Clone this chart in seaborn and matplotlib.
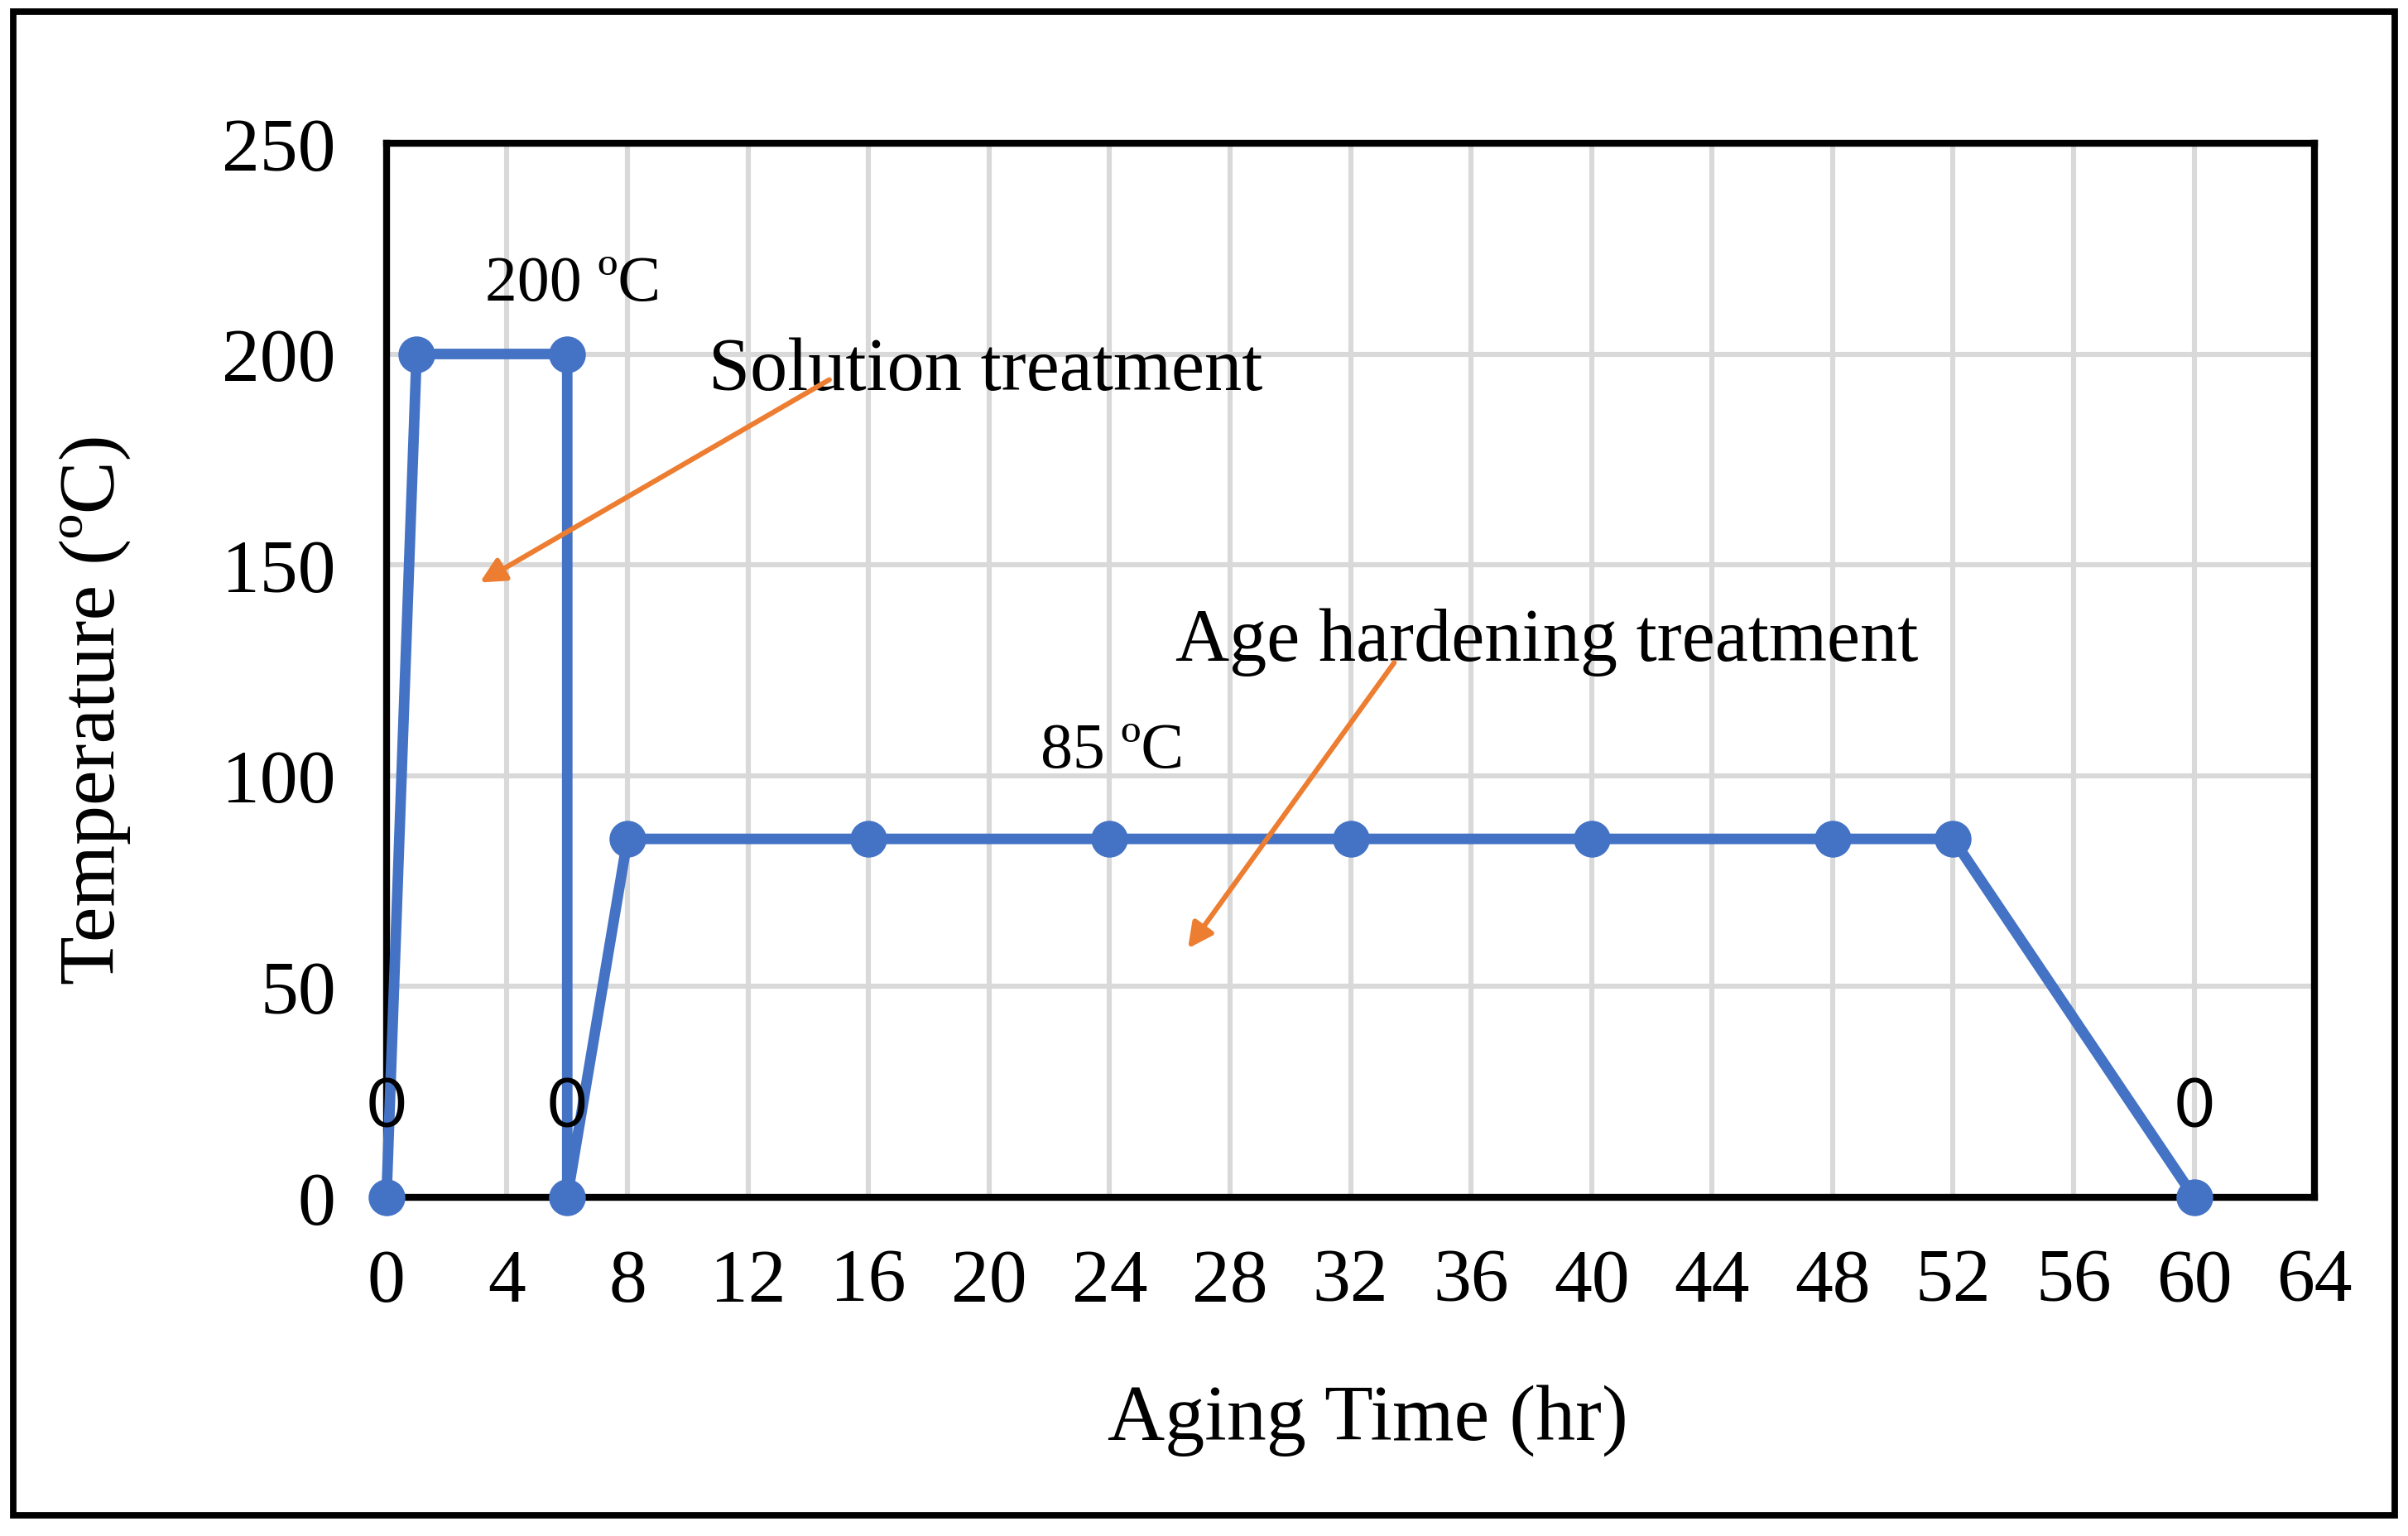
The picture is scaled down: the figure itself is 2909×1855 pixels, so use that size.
import numpy as np
import pandas as pd
import seaborn as sns
import matplotlib.pyplot as plt
from matplotlib.patches import Rectangle

# aging cycle
time_hr = [0, 1, 6, 6, 8, 16, 24, 32, 40, 48, 52, 60]
temp_c = [0, 200, 200, 0, 85, 85, 85, 85, 85, 85, 85, 0]
x_ticks = list(range(0, 65, 4))
y_ticks = [0, 50, 100, 150, 200, 250]

df = pd.DataFrame({'time': time_hr, 'temp': temp_c})

sns.set_style('white')
plt.rcParams['font.family'] = ['Liberation Serif', 'DejaVu Serif']
plt.rcParams['text.color'] = 'black'
plt.rcParams['axes.labelcolor'] = 'black'

fig, ax = plt.subplots(figsize=(14.545, 9.28), dpi=200)
fig.subplots_adjust(left=0.1605, right=0.9612, top=0.9063, bottom=0.2204)

sns.lineplot(data=df, x='time', y='temp', sort=False, estimator=None,
             color='#4472C4', linewidth=4.6, marker='o', markersize=16,
             markeredgewidth=0, ax=ax, clip_on=False, zorder=3)

ax.set_xlim(0, 64)
ax.set_ylim(0, 250)
ax.set_xticks(x_ticks)
ax.set_yticks(y_ticks)
ax.grid(True, color='#D9D9D9', linewidth=2.2)
ax.set_axisbelow(True)
for s in ax.spines.values():
    s.set_visible(True)
    s.set_color('black')
    s.set_linewidth(3)
ax.tick_params(axis='both', length=0, labelsize=33, colors='black')
ax.tick_params(axis='x', pad=22)
ax.tick_params(axis='y', pad=22)

ax.set_xlabel('Aging Time (hr)', fontsize=34.5, va='center')
ax.set_ylabel('Temperature (ºC)', fontsize=34.5, va='center')
ax.xaxis.set_label_coords(0.509, -0.211)
ax.yaxis.set_label_coords(-0.151, 0.4636)

# data labels on the zero points
for t, v in zip(time_hr, temp_c):
    if v == 0:
        ax.annotate('0', (t, v), xytext=(0, 39), textcoords='offset points',
                    ha='center', va='center', fontsize=29, color='black',
                    family=['Lato', 'DejaVu Sans'], zorder=4)

ax.text(3.26, 216.5, '200 ºC', fontsize=28, va='center', ha='left')
ax.text(21.7, 105.7, '85 ºC', fontsize=28, va='center', ha='left')
ax.text(10.7, 196, 'Solution treatment', fontsize=32.5, va='center', ha='left')
ax.text(26.2, 131.9, 'Age hardening treatment', fontsize=32.5, va='center', ha='left')

arrow = dict(arrowstyle='-|>,head_length=0.9,head_width=0.45',
             color='#ED7D31', linewidth=2.2, shrinkA=0, shrinkB=0)
ax.annotate('', xy=(3.1, 145.8), xytext=(14.7, 193.9), arrowprops=arrow)
ax.annotate('', xy=(26.6, 59.0), xytext=(33.45, 126.8), arrowprops=arrow)

fig.patches.append(Rectangle((0.0055, 0.0135), 0.9890, 0.9785,
                             transform=fig.transFigure, fill=False,
                             edgecolor='black', linewidth=2.8))

fig.savefig('out.png', dpi=200)
